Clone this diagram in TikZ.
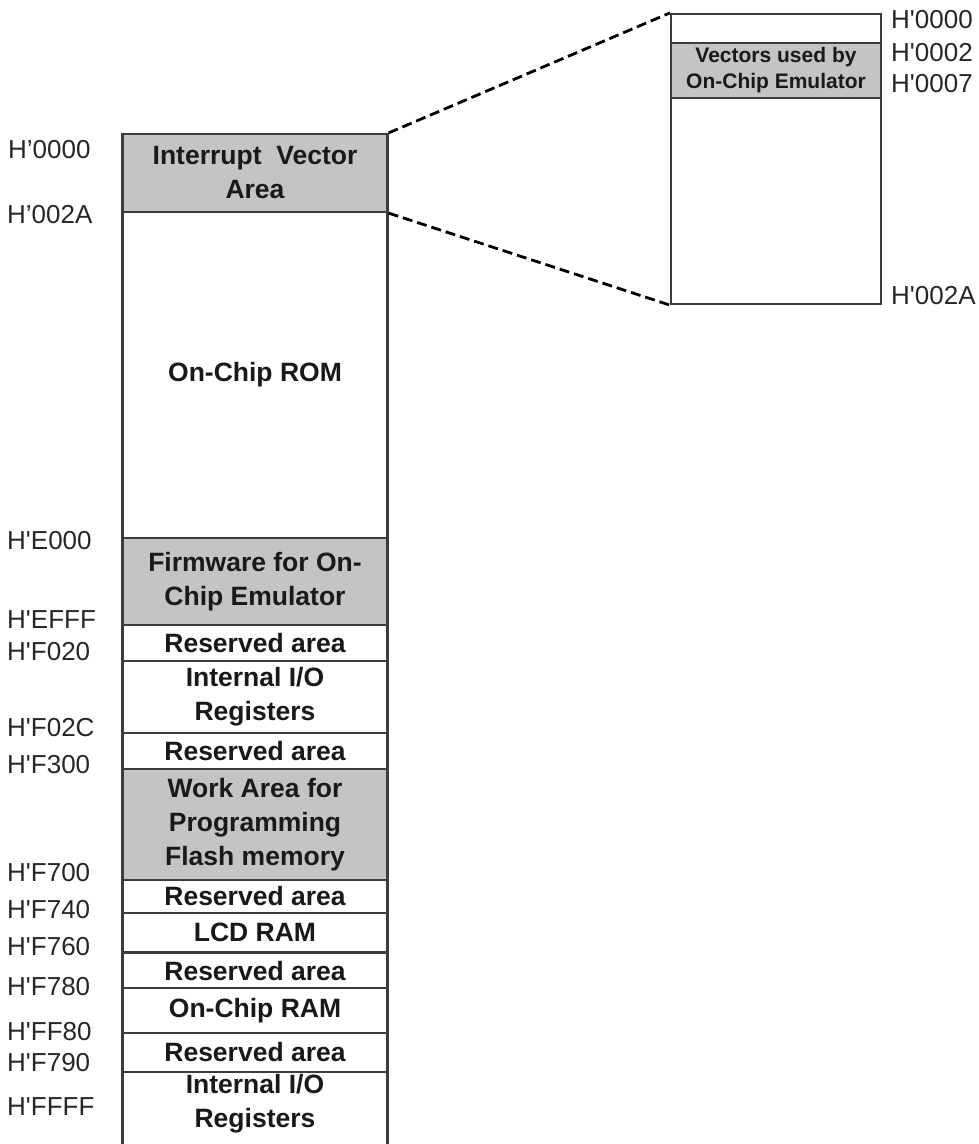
\documentclass[tikz,border=0pt]{standalone}
\usepackage{fontspec}
\setmainfont{Liberation Sans}[Ligatures=TeXOff]
\definecolor{shade}{RGB}{196,196,196}
\definecolor{edge}{RGB}{60,60,60}
\begin{document}
\begin{tikzpicture}[x=1pt,y=-1pt,
  region/.style={draw=edge, line width=2.2pt, fill=white, minimum width=265pt, inner sep=0pt, align=center,
    text=black!90, font=\bfseries\fontsize{26.5}{34}\selectfont},
  zregion/.style={draw=edge, line width=2.2pt, fill=white, minimum width=210pt, inner sep=0pt, align=center,
    text=black!90, font=\bfseries\fontsize{21}{26}\selectfont},
  shaded/.style={fill=shade},
  addr/.style={anchor=west, inner sep=0pt, font=\fontsize{26}{28}\selectfont, text=black!85},
  dashline/.style={draw=black, line width=2.8pt, dash pattern=on 10pt off 5pt}]
\useasboundingbox (0,0) rectangle (978,1144);
\clip (0,0) rectangle (978,1144);
% main memory map
\node[region, shaded, minimum height=78pt]  (ivec) at (255,173)   {Interrupt\ \ Vector\\Area};
\node[region, minimum height=326pt] (rom)  at (255,375)   {On-Chip ROM};
\node[region, shaded, minimum height=87pt]  (fw)   at (255,581.5) {Firmware for On-\\Chip Emulator};
\node[region, minimum height=36pt]  (res1) at (255,643)   {Reserved area};
\node[region, minimum height=72pt]  (io1)  at (255,697)   {Internal I/O\\Registers};
\node[region, minimum height=36pt]  (res2) at (255,751)   {Reserved area};
\node[region, shaded, minimum height=111pt] (work) at (255,824.5) {Work Area for\\Programming\\Flash memory};
\node[region, minimum height=33pt]  (res3) at (255,896.5) {Reserved area};
\node[region, minimum height=39pt]  (lcd)  at (255,932.5) {LCD RAM};
\node[region, minimum height=36pt]  (res4) at (255,971)   {Reserved area};
\node[region, minimum height=45pt]  (ram)  at (255,1010.5){On-Chip RAM};
\node[region, minimum height=39pt]  (res5) at (255,1052.5){Reserved area};
\node[region, minimum height=98pt]  (io2)  at (255,1121)  {};
\node[inner sep=0pt, align=center, text=black!90, font=\bfseries\fontsize{26.5}{34}\selectfont] (io2t) at (255,1104) {Internal I/O\\Registers};
% addresses of the main map
\node[addr] (a0)  at (8,150)  {H’0000};
\node[addr] (a1)  at (7,215)  {H’002A};
\node[addr] (a2)  at (7,541)  {H'E000};
\node[addr] (a3)  at (7,620)  {H'EFFF};
\node[addr] (a4)  at (7,652)  {H'F020};
\node[addr] (a5)  at (7,728)  {H'F02C};
\node[addr] (a6)  at (7,765)  {H'F300};
\node[addr] (a7)  at (7,873)  {H'F700};
\node[addr] (a8)  at (7,910)  {H'F740};
\node[addr] (a9)  at (7,947)  {H'F760};
\node[addr] (a10) at (7,987)  {H'F780};
\node[addr] (a11) at (7,1032) {H'FF80};
\node[addr] (a12) at (7,1063) {H'F790};
\node[addr] (a13) at (7,1107) {H'FFFF};
% enlarged vector area
\node[zregion, minimum height=29pt]  (ztop)  at (776,28.5) {};
\node[zregion, shaded, minimum height=55pt] (zgray) at (776,70.5) {Vectors used by\\On-Chip Emulator};
\node[zregion, minimum height=206pt] (zbot)  at (776,201)  {};
\node[addr] (z0) at (891,20)  {H'0000};
\node[addr] (z1) at (891,53)  {H'0002};
\node[addr] (z2) at (891,84)  {H'0007};
\node[addr] (z3) at (891,296) {H'002A};
% zoom connectors
\draw[dashline] (ivec.north east) -- (ztop.north west);
\draw[dashline] (ivec.south east) -- (zbot.south west);
\end{tikzpicture}
\end{document}
